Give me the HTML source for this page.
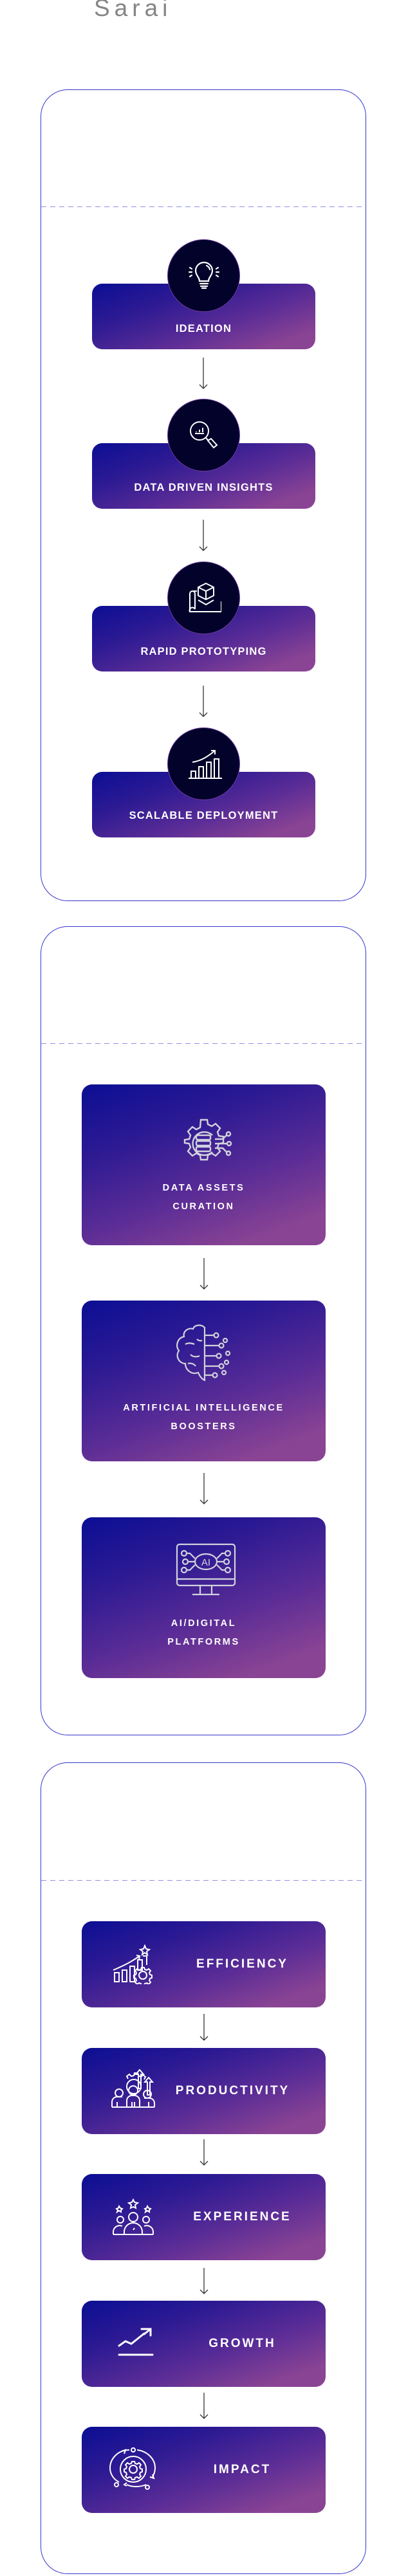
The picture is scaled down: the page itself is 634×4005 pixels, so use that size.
<!DOCTYPE html>
<html><head><meta charset="utf-8"><style>
*{margin:0;padding:0;box-sizing:border-box}
body{width:634px;height:4005px;background:#fff;position:relative;overflow:hidden;font-family:"Liberation Sans",sans-serif}
.abs{position:absolute}
.title{left:146px;top:-8px;font-size:37px;color:#858585;letter-spacing:7px;font-weight:normal}
.box{position:absolute;left:63px;width:506px;border:1.5px solid #3535cc;border-radius:42px}
.dash{position:absolute;left:64px;width:504px;height:1px;background:repeating-linear-gradient(90deg,#9090e6 0 8px,transparent 8px 14px)}
.card{position:absolute;background:linear-gradient(160deg,#0b0e94 0%,#2d1a93 30%,#5a2c96 60%,#8a4494 88%);border-radius:16px;color:#fff}
.c1{left:143px;width:347px;height:102px}
.circ{position:absolute;left:260px;width:113px;height:113px;border-radius:50%;background:#02022a;border:1px solid #6b3a9c}
.circ svg{position:absolute;left:31px;top:31px}
.l1{position:absolute;left:0;width:100%;text-align:center;font-weight:bold;font-size:16.5px;letter-spacing:1.2px}
.c2{left:127px;width:379px;height:250px}
.c2 svg{position:absolute}
.l2{position:absolute;left:0;width:100%;text-align:center;font-weight:bold;font-size:14.5px;letter-spacing:2.6px;line-height:29px}
.c3{left:127px;width:379px;height:134px}
.c3 svg{position:absolute;left:48px;top:36px}
.l3{position:absolute;left:120px;right:0;text-align:center;top:52px;font-size:19px;letter-spacing:3px;line-height:30px;font-weight:bold}
.arr{position:absolute;width:14px;margin-left:-7px}
</style></head><body>
<div class="abs title">Sarai</div>

<!-- Section 1 -->
<div class="box" style="top:139px;height:1262px"></div>
<div class="dash" style="top:321px"></div>

<div class="card c1" style="top:441px"><div class="l1" style="top:61px">IDEATION</div></div>
<div class="circ" style="top:372px"><svg width="50" height="50" viewBox="0 0 50 50" fill="none" stroke="#fff" stroke-width="2.2" stroke-linecap="round"><path d="M18 33 C18 27 12 24 12 17 A13 13 0 0 1 38 17 C38 24 32 27 32 33 Z"/><path d="M19 37h12M20 41h10M22 44h6"/><path d="M29 9 A8 8 0 0 1 34 15"/><path d="M3 12l3 2M2 19h4M3 26l3-2M47 12l-3 2M48 19h-4M47 26l-3-2"/></svg></div>
<svg class="arr" style="left:316px;top:556px" height="50" viewBox="0 0 14 50" fill="none" stroke="#333" stroke-width="1.3"><path d="M7 0v48M1 42l6 6 6-6"/></svg>

<div class="card c1" style="top:689px"><div class="l1" style="top:60px">DATA DRIVEN INSIGHTS</div></div>
<div class="circ" style="top:620px"><svg width="50" height="50" viewBox="0 0 50 50" fill="none" stroke="#fff" stroke-width="2"><circle cx="18" cy="18" r="14"/><path d="M11 22h14" /><path d="M13 20v-1M18 20v-4M23 20v-7"/><path d="M28 29l4 4"/><path d="M31 33l5-3 9 10-5 4z"/></svg></div>
<svg class="arr" style="left:316px;top:808px" height="50" viewBox="0 0 14 50" fill="none" stroke="#333" stroke-width="1.3"><path d="M7 0v48M1 42l6 6 6-6"/></svg>

<div class="card c1" style="top:942px"><div class="l1" style="top:62px">RAPID PROTOTYPING</div></div>
<div class="circ" style="top:873px"><svg width="52" height="50" viewBox="0 0 52 50" fill="none" stroke="#fff" stroke-width="2"><path d="M28 2l12 6v13l-12 6-12-6V8z"/><path d="M16 8l12 6 12-6M28 14v13"/><path d="M16 28l12 7 12-7"/><path d="M8 14h6M3 18v28h49V30M3 18a4 4 0 0 1 8 0v24a4 4 0 0 0-8 4"/></svg></div>
<svg class="arr" style="left:316px;top:1066px" height="50" viewBox="0 0 14 50" fill="none" stroke="#333" stroke-width="1.3"><path d="M7 0v48M1 42l6 6 6-6"/></svg>

<div class="card c1" style="top:1200px"><div class="l1" style="top:59px">SCALABLE DEPLOYMENT</div></div>
<div class="circ" style="top:1131px"><svg width="54" height="50" viewBox="0 0 54 50" fill="none" stroke="#fff" stroke-width="2"><path d="M1 47h52"/><rect x="5" y="36" width="7" height="11"/><rect x="17" y="29" width="7" height="18"/><rect x="29" y="22" width="7" height="25"/><rect x="41" y="17" width="7" height="30"/><path d="M7 22C20 20 30 14 42 4M36 4h6v6"/></svg></div>

<!-- Section 2 -->
<div class="box" style="top:1440px;height:1258px"></div>
<div class="dash" style="top:1622px"></div>

<div class="card c2" style="top:1686px">
<svg style="left:149px;top:52px" width="88" height="80" viewBox="0 0 88 80" fill="none" stroke="#d2d2dc" stroke-width="2.4"><path d="M36 3h10l1 7 6 3 6-4 7 7-4 6 2 6 7 1v10l-7 1-2 6 4 6-7 7-6-4-6 3-1 7H36l-1-7-6-3-6 4-7-7 4-6-2-6-7-1V34l7-1 2-6-4-6 7-7 6 4 6-3z"/><path d="M54 27a18 18 0 1 0 0 26"/><rect x="29" y="27" width="22" height="7" rx="2"/><rect x="29" y="36" width="22" height="7" rx="2"/><rect x="29" y="45" width="22" height="7" rx="2"/><path d="M58 33h12l6-6M58 40h18M58 47h12l6 6"/><circle cx="79" cy="25" r="3"/><circle cx="80" cy="40" r="3"/><circle cx="79" cy="55" r="3"/></svg>
<div class="l2" style="top:147px">DATA ASSETS<br>CURATION</div></div>
<svg class="arr" style="left:317px;top:1956px" height="50" viewBox="0 0 14 50" fill="none" stroke="#333" stroke-width="1.3"><path d="M7 0v48M1 42l6 6 6-6"/></svg>

<div class="card c2" style="top:2022px">
<svg style="left:141px;top:36px" width="96" height="92" viewBox="0 0 96 92" fill="none" stroke="#d2d2dc" stroke-width="2.2"><path d="M50 6C44 0 34 2 32 8 24 6 16 12 18 20 8 22 4 34 10 42 4 50 10 62 20 62 20 72 30 80 40 76 44 86 50 88 50 88V6z"/><path d="M20 32c6-4 14 0 14 0M28 48c6 6 14 2 14 2M24 62c8-2 12 4 12 4M38 24c4 4 8 2 8 2"/><path d="M50 18h14M50 34h22M50 50h18M50 66h22M50 80h12"/><circle cx="68" cy="18" r="3.5"/><circle cx="76" cy="34" r="3.5"/><circle cx="72" cy="50" r="3.5"/><circle cx="76" cy="66" r="3.5"/><circle cx="66" cy="80" r="3.5"/><circle cx="82" cy="26" r="3"/><circle cx="86" cy="46" r="3"/><circle cx="84" cy="60" r="3"/><circle cx="80" cy="76" r="3"/></svg>
<div class="l2" style="top:153px">ARTIFICIAL INTELLIGENCE<br>BOOSTERS</div></div>
<svg class="arr" style="left:317px;top:2290px" height="50" viewBox="0 0 14 50" fill="none" stroke="#333" stroke-width="1.3"><path d="M7 0v48M1 42l6 6 6-6"/></svg>

<div class="card c2" style="top:2359px">
<svg style="left:146px;top:40px" width="94" height="88" viewBox="0 0 94 88" fill="none" stroke="#d2d2dc" stroke-width="2.2"><rect x="2" y="2" width="90" height="64" rx="4"/><path d="M2 56h90M38 66v14M56 66v14M26 80h42"/><ellipse cx="47" cy="29" rx="17" ry="12"/><text x="47" y="35" font-family="Liberation Sans" font-size="15" fill="#d2d2dc" stroke="none" text-anchor="middle">AI</text><path d="M30 29H20M30 24l-8-8h-4M30 34l-8 8h-4M64 29h10M64 24l8-8h4M64 34l8 8h4"/><circle cx="13" cy="16" r="4"/><circle cx="15" cy="29" r="4"/><circle cx="13" cy="42" r="4"/><circle cx="81" cy="16" r="4"/><circle cx="79" cy="29" r="4"/><circle cx="81" cy="42" r="4"/></svg>
<div class="l2" style="top:151px">AI/DIGITAL<br>PLATFORMS</div></div>

<!-- Section 3 -->
<div class="box" style="top:2740px;height:1262px"></div>
<div class="dash" style="top:2923px"></div>

<div class="card c3" style="top:2987px">
<svg width="64" height="62" viewBox="0 0 64 62" fill="none" stroke="#fff" stroke-width="2"><path d="M1 40C15 34 28 28 42 18M37 17l5 1-1 5"/><rect x="3" y="44" width="7" height="14"/><rect x="15" y="40" width="7" height="18"/><rect x="27" y="34" width="7" height="24"/><rect x="39" y="24" width="7" height="16"/><path d="M50 2l2 5 5 1-4 3 1 5-4-3-4 3 1-5-4-3 5-1z"/><path d="M47 18h6v14"/><circle cx="47" cy="48" r="6"/><path d="M45 36h4l1 3 3 1 3-2 3 3-2 3 1 3 3 1v4l-3 1-1 3 2 3-3 3-3-2-3 1-1 3h-4l-1-3-3-1-3 2-3-3 2-3-1-3-3-1v-4l3-1 1-3-2-3 3-3 3 2 3-1z"/></svg>
<div class="l3">EFFICIENCY</div></div>
<svg class="arr" style="left:317px;top:3131px" height="43" viewBox="0 0 14 43" fill="none" stroke="#333" stroke-width="1.3"><path d="M7 0v41M1 35l6 6 6-6"/></svg>

<div class="card c3" style="top:3184px">
<svg style="top:30px;left:46px" width="68" height="64" viewBox="0 0 68 64" fill="none" stroke="#fff" stroke-width="2"><path d="M26 18l-2-4 4-3 3 3 4-1 1-4h5l1 4 4 2 3-3 4 3-2 4"/><circle cx="35" cy="30" r="11"/><path d="M44 4l-6 7h4v22h4V11h4z"/><path d="M58 16l-6 7h4v20h4V23h4z"/><circle cx="12" cy="40" r="6"/><circle cx="34" cy="36" r="7"/><circle cx="56" cy="42" r="6"/><path d="M1 62V54a8 8 0 0 1 8-8h8M9 62v-8M24 62V52a8 8 0 0 1 8-8h4a8 8 0 0 1 8 8v10M32 62v-8M36 62v-8M51 48h8a8 8 0 0 1 8 8v6M58 62v-8M1 62h66"/></svg>
<div class="l3" style="left:90px">PRODUCTIVITY</div></div>
<svg class="arr" style="left:317px;top:3326px" height="42" viewBox="0 0 14 42" fill="none" stroke="#333" stroke-width="1.3"><path d="M7 0v40M1 34l6 6 6-6"/></svg>

<div class="card c3" style="top:3380px">
<svg width="64" height="60" viewBox="0 0 64 60" fill="none" stroke="#fff" stroke-width="2"><path d="M32 4l2 4 5 1-4 3 1 5-4-2-4 2 1-5-4-3 5-1z"/><path d="M10 14l2 3 3 1-2 2 0 3-3-2-3 2 1-3-2-2 3-1z"/><path d="M54 14l2 3 3 1-2 2 0 3-3-2-3 2 1-3-2-2 3-1z"/><circle cx="12" cy="35" r="5"/><circle cx="32" cy="31" r="7"/><circle cx="52" cy="35" r="5"/><path d="M1 58v-4a10 10 0 0 1 14-9M63 58v-4a10 10 0 0 0-14-9M18 58v-4a14 14 0 0 1 28 0v4M1 58h62M34 48l-2 3"/></svg>
<div class="l3">EXPERIENCE</div></div>
<svg class="arr" style="left:317px;top:3526px" height="42" viewBox="0 0 14 42" fill="none" stroke="#333" stroke-width="1.3"><path d="M7 0v40M1 34l6 6 6-6"/></svg>

<div class="card c3" style="top:3577px">
<svg style="left:56px;top:40px" width="56" height="48" viewBox="0 0 56 48" fill="none" stroke="#fff" stroke-width="3" stroke-linecap="round"><path d="M2 30l10-7 9 4 20-16"/><path d="M37 4h14v10"/><path d="M51 4L41 12"/><path d="M2 44h52"/></svg>
<div class="l3">GROWTH</div></div>
<svg class="arr" style="left:317px;top:3720px" height="42" viewBox="0 0 14 42" fill="none" stroke="#333" stroke-width="1.3"><path d="M7 0v40M1 34l6 6 6-6"/></svg>

<div class="card c3" style="top:3773px">
<svg style="left:42px;top:30px" width="76" height="72" viewBox="0 0 76 72" fill="none" stroke="#fff" stroke-width="2"><circle cx="38" cy="6" r="3"/><path d="M32 6C14 6 2 20 2 34c0 10 6 18 14 22M44 6c16 2 28 14 28 28 0 6-2 10-4 14M28 60c8 4 20 4 30 0"/><path d="M20 8l6-2-2 6M68 44l2 6-6-2M28 62l-4-2 4-3"/><circle cx="38" cy="36" r="20"/><circle cx="38" cy="36" r="6"/><path d="M36 24h4l1 3 3 1 3-2 3 3-2 3 1 3 3 1v4l-3 1-1 3 2 3-3 3-3-2-3 1-1 3h-4l-1-3-3-1-3 2-3-3 2-3-1-3-3-1v-4l3-1 1-3-2-3 3-3 3 2 3-1z"/><circle cx="12" cy="60" r="3"/><circle cx="60" cy="64" r="3"/></svg>
<div class="l3">IMPACT</div></div>
</body></html>
